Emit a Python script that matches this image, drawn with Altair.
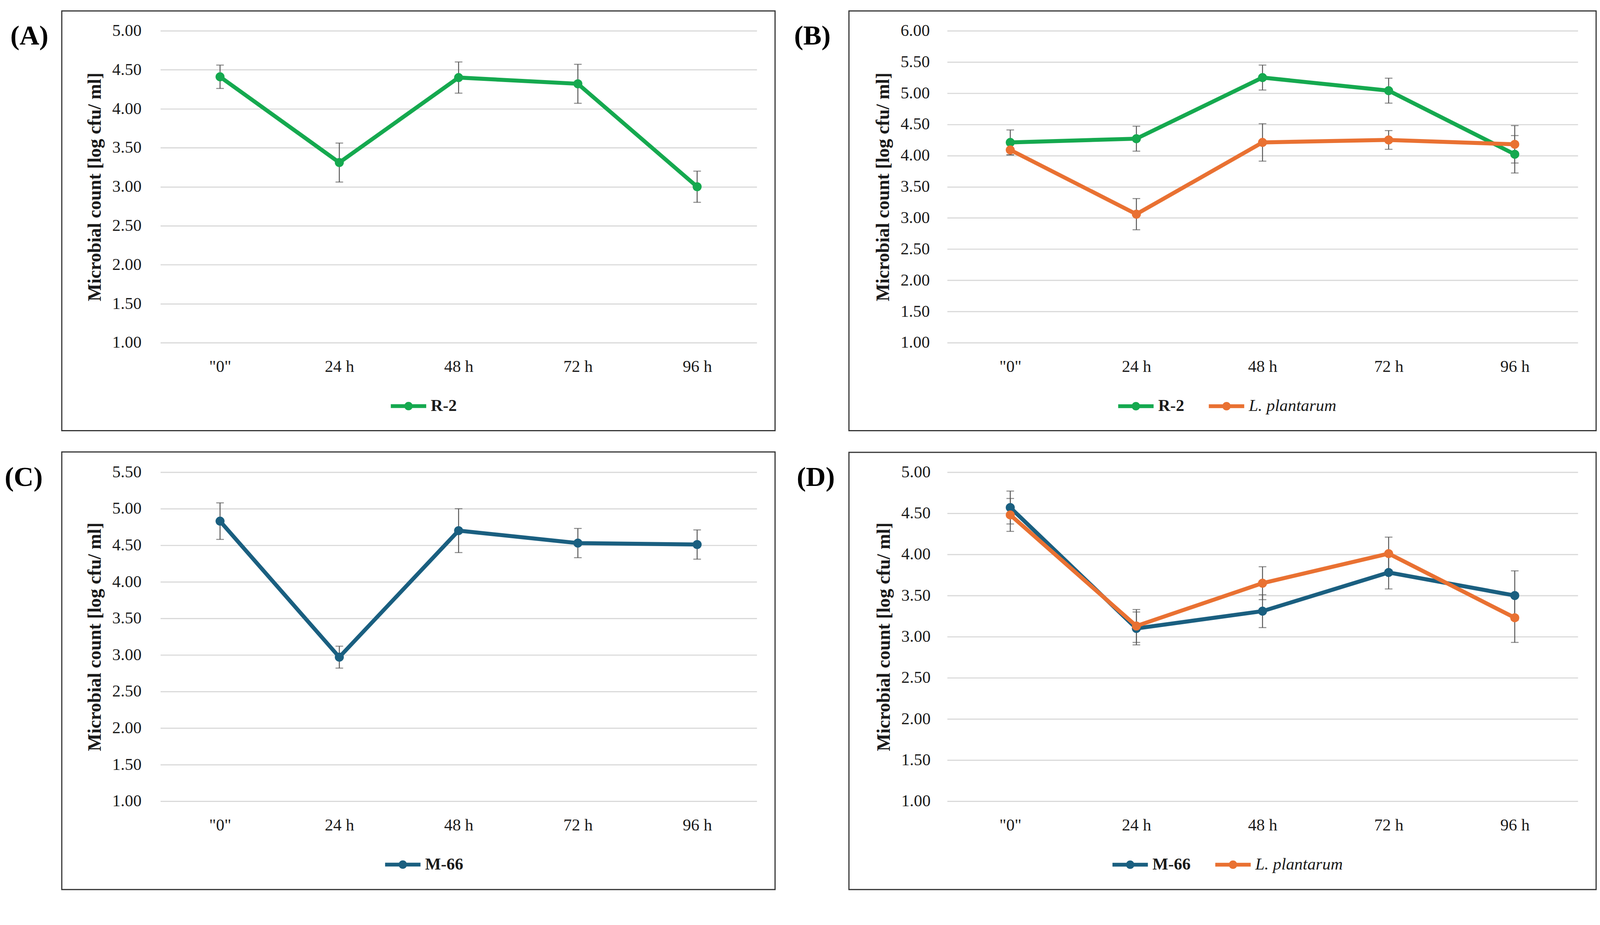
import altair as alt
import pandas as pd

# ---------------- data ----------------
times = ['"0"', "24 h", "48 h", "72 h", "96 h"]

a_r2_mean = [4.41, 3.31, 4.40, 4.32, 3.00]
a_r2_sd = [0.15, 0.25, 0.20, 0.25, 0.20]

b_r2_mean = [4.21, 4.27, 5.25, 5.04, 4.02]
b_r2_sd = [0.20, 0.20, 0.20, 0.20, 0.30]
b_lp_mean = [4.09, 3.06, 4.21, 4.25, 4.18]
b_lp_sd = [0.08, 0.25, 0.30, 0.15, 0.30]

c_m66_mean = [4.83, 2.97, 4.70, 4.53, 4.51]
c_m66_sd = [0.25, 0.15, 0.30, 0.20, 0.20]

d_m66_mean = [4.57, 3.10, 3.31, 3.78, 3.50]
d_m66_sd = [0.20, 0.20, 0.20, 0.20, 0.30]
d_lp_mean = [4.48, 3.13, 3.65, 4.01, 3.23]
d_lp_sd = [0.20, 0.20, 0.20, 0.20, 0.30]

GREEN = "#15A94F"
ORANGE = "#E97132"
BLUE = "#1A5F80"
FONT = "Liberation Serif"
TXT = "#1a1a1a"

LEG_PATH = ("M-1,0L1,0"
            "M-0.13,0A0.13,0.13,0,1,0,0.13,0A0.13,0.13,0,1,0,-0.13,0"
            "M-0.05,0A0.05,0.05,0,1,0,0.05,0A0.05,0.05,0,1,0,-0.05,0")


def panel(letter, series, ymax, width, height, frame, legend_x, label_pad, label_dx):
    rows = []
    for name, means, sds, _ in series:
        for i, (t, m, s) in enumerate(zip(times, means, sds)):
            rows.append({"series": name, "time": t, "idx": i, "mean": m,
                         "lo": round(m - s, 3), "hi": round(m + s, 3)})
    df = pd.DataFrame(rows)
    names = [s[0] for s in series]
    colors = [s[3] for s in series]

    ticks = []
    v = 1.0
    while v <= ymax + 1e-9:
        ticks.append(round(v, 2))
        v += 0.5

    xenc = alt.X("time:N", sort=times,
                 scale=alt.Scale(type="point", padding=0.5),
                 axis=alt.Axis(title=None, labelAngle=0, ticks=False, domain=False,
                               grid=False, labelFont=FONT, labelFontSize=44,
                               labelColor=TXT, labelPadding=41))
    yaxis = alt.Axis(values=ticks, format=".2f", title="Microbial count [log cfu/ ml]",
                     titleFont=FONT, titleFontSize=49, titleFontWeight="bold",
                     titleColor=TXT, titlePadding=20,
                     labelFont=FONT, labelFontSize=44, labelColor=TXT,
                     labelPadding=label_pad, ticks=False, domain=False,
                     grid=True, gridColor="#D9D9D9", gridWidth=3)
    yscale = alt.Scale(domain=[1, ymax], nice=False, zero=False)

    legend = alt.Legend(title=None, orient="none", legendX=legend_x,
                        legendY=height + 115, direction="horizontal",
                        symbolType=LEG_PATH, symbolSize=8649, symbolStrokeWidth=10,
                        labelFont=FONT, labelFontSize=44, labelColor=TXT,
                        labelLimit=0,
                        labelFontWeight=alt.ExprRef(
                            "datum.label == 'L. plantarum' ? 'normal' : 'bold'"),
                        labelFontStyle=alt.ExprRef(
                            "datum.label == 'L. plantarum' ? 'italic' : 'normal'"),
                        labelOffset=7, columnPadding=44, padding=0,
                        labelBaseline="middle")
    color = alt.Color("series:N", scale=alt.Scale(domain=names, range=colors),
                      legend=legend)

    base = alt.Chart(df)
    err = base.mark_rule(color="#555555", strokeWidth=2.5).encode(
        x=xenc, y=alt.Y("lo:Q", scale=yscale, axis=yaxis), y2="hi:Q")
    cap_lo = base.mark_tick(color="#555555", thickness=2.5, size=20).encode(
        x=xenc, y=alt.Y("lo:Q", scale=yscale, axis=yaxis))
    cap_hi = base.mark_tick(color="#555555", thickness=2.5, size=20).encode(
        x=xenc, y=alt.Y("hi:Q", scale=yscale, axis=yaxis))
    line = base.mark_line(strokeWidth=10.5).encode(
        x=xenc, y=alt.Y("mean:Q", scale=yscale, axis=yaxis), color=color,
        order=alt.Order("idx:Q"))
    pts = base.mark_point(filled=True, size=560, opacity=1).encode(
        x=xenc, y=alt.Y("mean:Q", scale=yscale, axis=yaxis), color=color)

    fx0, fx1, fy0, fy1 = frame
    one = alt.Chart(pd.DataFrame({"k": [0]}))
    # invisible spacer so every panel has the same left extent
    spacer = one.mark_rect(opacity=0).encode(
        x=alt.value(fx0 - 154), x2=alt.value(fx0), y=alt.value(fy0 + 10),
        y2=alt.value(fy0 + 20))
    box = one.mark_rect(fillOpacity=0, stroke="#333333", strokeWidth=3).encode(
        x=alt.value(fx0), x2=alt.value(fx1), y=alt.value(fy0), y2=alt.value(fy1))
    lab = one.mark_text(text=letter, font=FONT, fontSize=72, fontWeight="bold",
                        align="left", baseline="middle", color="black").encode(
        x=alt.value(fx0 - label_dx), y=alt.value(14))

    return alt.layer(spacer, box, err, cap_lo, cap_hi, line, pts, lab).properties(
        width=width, height=height)


pA = panel("(A)", [("R-2", a_r2_mean, a_r2_sd, GREEN)], 5.0, 1566, 819,
           (-259, 1614, -52, 1050), 600, 50, 135)
pB = panel("(B)", [("R-2", b_r2_mean, b_r2_sd, GREEN),
                   ("L. plantarum", b_lp_mean, b_lp_sd, ORANGE)], 6.0, 1656, 819,
           (-258, 1704, -52, 1050), 444, 46, 144)
pC = panel("(C)", [("M-66", c_m66_mean, c_m66_sd, BLUE)], 5.5, 1566, 864,
           (-259, 1614, -53, 1096), 585, 50, 150)
pD = panel("(D)", [("M-66", d_m66_mean, d_m66_sd, BLUE),
                   ("L. plantarum", d_lp_mean, d_lp_sd, ORANGE)], 5.0, 1656, 864,
           (-258, 1704, -52, 1096), 429, 44, 137)

top = alt.hconcat(pA, pB, spacing=38).resolve_scale(color="independent")
bottom = alt.hconcat(pC, pD, spacing=38).resolve_scale(color="independent")
chart = alt.vconcat(top, bottom, spacing=52).resolve_scale(
    color="independent").properties(
    padding={"left": 0, "top": -11, "right": 0, "bottom": 0},
    background="white",
).configure_view(stroke=None)

chart.save("out.html", embed_options={"renderer": "svg", "actions": False})
